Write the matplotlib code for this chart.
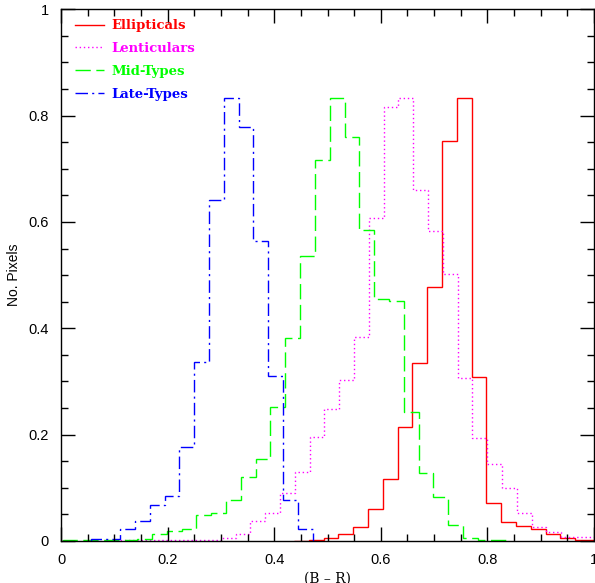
import numpy as np
import matplotlib
matplotlib.use('Agg')
from matplotlib import pyplot, ticker

# histogram bins are 1/36 wide in (B - R); each class has its own first edge
_BIN_WIDTH = 1.0 / 36

labels = ['Ellipticals', 'Lenticulars', 'Mid-Types', 'Late-Types']

ell_start = 15.73 / 36
ell_counts = [0.0005, 0.0025, 0.005, 0.0125, 0.027, 0.060, 0.116, 0.215, 0.335, 0.477,
              0.752, 0.834, 0.308, 0.072, 0.036, 0.028, 0.0226, 0.013, 0.0056, 0.002, 0.002]

len_start = 3.79 / 36
len_counts = [0.001, 0.001, 0.001, 0.001, 0.001, 0.001, 0.002, 0.006, 0.013, 0.038,
              0.052, 0.091, 0.130, 0.196, 0.249, 0.303, 0.383, 0.608, 0.816, 0.834,
              0.660, 0.583, 0.503, 0.307, 0.194, 0.144, 0.100, 0.053, 0.027, 0.016,
              0.008, 0.008, 0.008]

mid_start = 0.15 / 36
mid_counts = [0.001, 0.001, 0.001, 0.002, 0.002, 0.003, 0.013, 0.018, 0.023, 0.048,
              0.052, 0.078, 0.121, 0.154, 0.252, 0.382, 0.536, 0.717, 0.834, 0.760,
              0.585, 0.455, 0.452, 0.243, 0.128, 0.083, 0.031, 0.006, 0.002, 0.002]

late_start = 2.0 / 36
late_counts = [0.003, 0.003, 0.022, 0.038, 0.067, 0.085, 0.176, 0.337, 0.642, 0.834,
               0.779, 0.565, 0.310, 0.077, 0.023]

x_ticks = [0, 0.2, 0.4, 0.6, 0.8, 1]
x_tick_labels = ['0', '0.2', '0.4', '0.6', '0.8', '1']
y_ticks = [0, 0.2, 0.4, 0.6, 0.8, 1]
y_tick_labels = ['0', '0.2', '0.4', '0.6', '0.8', '1']

_COLORS = ['#ff0000', '#ff00ff', '#00ff00', '#0000ff']
_STYLES = ['-', (0, (1, 2)), (0, (11, 4)), (0, (9, 3, 1.5, 3))]

fig = pyplot.figure(figsize=(5.95, 5.83), dpi=100)
ax = fig.add_axes([61 / 595, 1 - 541 / 583, 533 / 595, 531.7 / 583])

series = [(ell_start, ell_counts), (len_start, len_counts),
          (mid_start, mid_counts), (late_start, late_counts)]
for (start, counts), label, color, style in zip(series, labels, _COLORS, _STYLES):
    edges = start + _BIN_WIDTH * np.arange(len(counts) + 1)
    ax.stairs(counts, edges, baseline=0, color=color, linestyle=style,
              linewidth=1.0, label=label)

ax.set_xlim(0, 1)
ax.set_ylim(0, 1)
ax.set_xticks(x_ticks)
ax.set_xticklabels(x_tick_labels)
ax.set_yticks(y_ticks)
ax.set_yticklabels(y_tick_labels)
ax.xaxis.set_minor_locator(ticker.MultipleLocator(0.05))
ax.yaxis.set_minor_locator(ticker.MultipleLocator(0.05))
ax.tick_params(which='both', direction='in', top=True, right=True, width=1, color='black')
ax.tick_params(which='major', length=10, labelsize=10.5, pad=9)
ax.tick_params(which='minor', length=5)
for label in ax.get_xticklabels() + ax.get_yticklabels():
    label.set_family('Liberation Sans')
for spine in ax.spines.values():
    spine.set_linewidth(1)

ax.set_xlabel('(B \u2013 R)', family='DejaVu Serif', fontsize=10, labelpad=3)
ax.set_ylabel('No. Pixels', family='Liberation Sans', fontsize=10, labelpad=5)

legend = ax.legend(loc='upper left', bbox_to_anchor=(0.0075, 1.0), frameon=False,
                   handlelength=2.2, handletextpad=0.6, labelspacing=0.75,
                   borderaxespad=0.35, labelcolor='linecolor',
                   prop={'family': 'DejaVu Serif', 'weight': 'bold', 'size': 9.5})

pyplot.savefig('out.png', dpi=100)
